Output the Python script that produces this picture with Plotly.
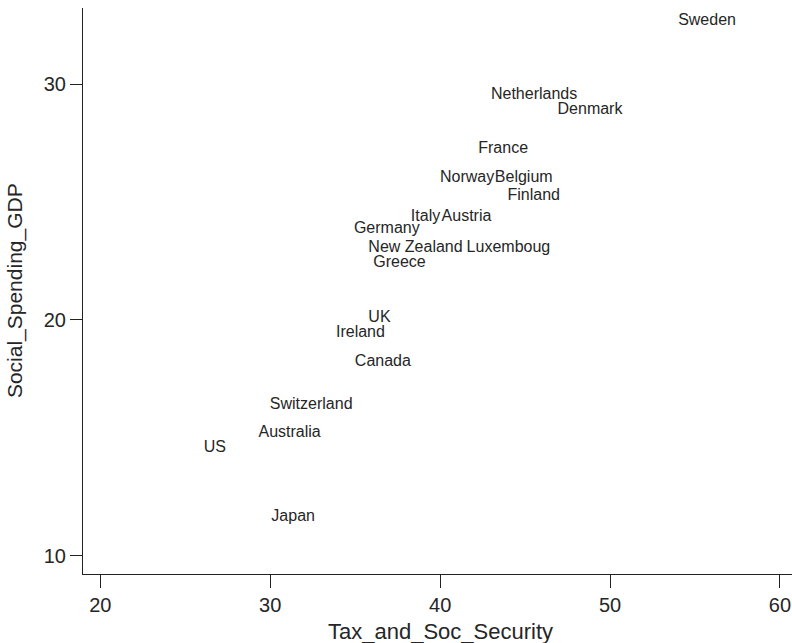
import plotly.graph_objects as go

countries = ["Sweden", "Netherlands", "Denmark", "France", "Norway", "Belgium", "Finland",
             "Italy", "Austria", "Germany", "New Zealand", "Luxemboug", "Greece", "UK",
             "Ireland", "Canada", "Switzerland", "Australia", "US", "Japan"]
tax_and_soc_security = [55.71, 45.53, 48.82, 43.71, 41.59, 44.92, 45.51,
                        39.14, 41.55, 36.86, 38.55, 44.02, 37.61, 36.43,
                        35.31, 36.63, 32.41, 31.14, 26.74, 31.35]
social_spending_gdp = [32.70, 29.55, 28.92, 27.25, 26.03, 26.03, 25.26,
                       24.38, 24.38, 23.84, 23.04, 23.04, 22.42, 20.06,
                       19.43, 18.22, 16.41, 15.21, 14.57, 11.64]
x_ticks = [20, 30, 40, 50, 60]
y_ticks = [10, 20, 30]
x_title = "Tax_and_Soc_Security"
y_title = "Social_Spending_GDP"

FONT = "Liberation Sans, Arial, Helvetica, sans-serif"
INK = "#262626"

fig = go.Figure(go.Scatter(
    x=tax_and_soc_security, y=social_spending_gdp, text=countries,
    mode="text", textposition="middle center",
    textfont=dict(family=FONT, size=16, color=INK),
    hoverinfo="text", showlegend=False, cliponaxis=False,
))

axis_common = dict(showline=True, linecolor="#222", linewidth=1, ticks="outside",
                   tickcolor="#222", tickwidth=1, showgrid=False, zeroline=False,
                   automargin=False,
                   tickfont=dict(family=FONT, size=20, color=INK), mirror=False)

fig.update_layout(
    width=792, height=643,
    margin=dict(l=83, r=0, t=8, b=69, autoexpand=False),
    paper_bgcolor="white", plot_bgcolor="white",
    xaxis=dict(range=[18.98, 60.71], tickvals=x_ticks, ticklen=13, **axis_common),
    yaxis=dict(range=[9.22, 33.23], tickvals=y_ticks, ticklen=12, **axis_common),
    annotations=[
        dict(text=x_title, xref="x", x=40.0, yref="paper", y=0, yanchor="middle",
             yshift=-57, showarrow=False,
             font=dict(family=FONT, size=22, color=INK)),
        dict(text=y_title, xref="paper", x=0, xanchor="center", xshift=-68,
             yref="y", y=21.22, yanchor="middle", textangle=-90, showarrow=False,
             font=dict(family=FONT, size=21, color=INK)),
    ],
)

fig.write_html(
    "out.html",
    config={"displayModeBar": False},
    post_script="document.body.style.margin='0';document.body.style.overflow='hidden';",
)
